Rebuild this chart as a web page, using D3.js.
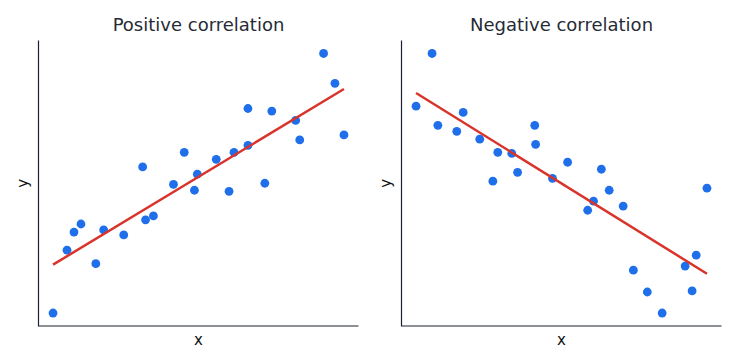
<!DOCTYPE html>
<html>
<head>
<meta charset="utf-8">
<script src="https://cdn.jsdelivr.net/npm/d3@7"></script>
<style>
  body { margin: 0; background: #fff; }
  svg { display: block; font-family: "DejaVu Sans", sans-serif; }
</style>
</head>
<body>
<script>
var titles = ['Positive correlation', 'Negative correlation'];

var posX = [0, 0.48, 0.72, 0.96, 1.47, 1.74, 2.43, 3.08, 3.18, 3.45, 4.14, 4.51, 4.86,
            4.96, 5.61, 6.05, 6.22, 6.70, 6.70, 7.28, 7.52, 8.34, 8.48, 9.30, 9.69, 10];
var posY = [0, 2.42, 3.12, 3.43, 1.90, 3.20, 3.01, 5.63, 3.59, 3.74, 4.96, 6.19, 4.73,
            5.35, 5.92, 4.69, 6.19, 7.88, 6.46, 5.00, 7.78, 7.42, 6.67, 10, 8.85, 6.86];

var negX = [0, 0.55, 0.75, 1.40, 1.62, 2.19, 2.64, 2.81, 3.29, 3.49, 4.08, 4.11, 4.69,
            5.21, 5.90, 6.10, 6.37, 6.64, 7.12, 7.47, 7.95, 8.46, 9.25, 9.49, 9.63, 10];
var negY = [7.97, 10, 7.23, 7.00, 7.73, 6.70, 5.08, 6.19, 6.15, 5.42, 7.23, 6.50, 5.19,
            5.81, 3.96, 4.31, 5.54, 4.73, 4.12, 1.65, 0.81, 0, 1.81, 0.85, 2.23, 4.81];

var W = 738, H = 364;
var svg = d3.select('body').append('svg')
    .attr('width', W)
    .attr('height', H);

var panels = [
    { title: titles[0], xs: posX, ys: posY, left: 38.5 },
    { title: titles[1], xs: negX, ys: negY, left: 401.5 }
];

var plotTop = 40.5, plotBottom = 326, pw = 320;

// least squares fit, drawn over the x extent of the points
function fit(xs, ys) {
    var mx = d3.mean(xs), my = d3.mean(ys), sxy = 0, sxx = 0;
    xs.forEach(function(x, i) {
        sxy += (x - mx) * (ys[i] - my);
        sxx += (x - mx) * (x - mx);
    });
    var b = sxy / sxx;
    return { b: b, a: my - b * mx };
}

function pad(ext) {
    var m = (ext[1] - ext[0]) * 0.05;
    return [ext[0] - m, ext[1] + m];
}

panels.forEach(function(p) {
    var g = svg.append('g');
    var x = d3.scaleLinear().domain(pad(d3.extent(p.xs))).range([p.left, p.left + pw]);
    var y = d3.scaleLinear().domain(pad(d3.extent(p.ys))).range([plotBottom, plotTop]);

    var pts = p.xs.map(function(v, i) { return { x: v, y: p.ys[i] }; });
    var f = fit(p.xs, p.ys);
    var ext = d3.extent(p.xs);
    var lineData = ext.map(function(v) { return { x: v, y: f.a + f.b * v }; });

    g.selectAll('circle')
        .data(pts)
        .enter()
        .append('circle')
        .attr('cx', function(d) { return x(d.x); })
        .attr('cy', function(d) { return y(d.y); })
        .attr('r', 4.4)
        .attr('fill', '#1f6fea');

    g.append('path')
        .datum(lineData)
        .attr('d', d3.line()
            .x(function(d) { return x(d.x); })
            .y(function(d) { return y(d.y); }))
        .attr('fill', 'none')
        .attr('stroke', '#d9342b')
        .attr('stroke-width', 2.5);

    // spines: left and bottom only
    g.append('path')
        .attr('d', 'M' + p.left + ',' + plotTop + 'V' + plotBottom + 'H' + (p.left + pw))
        .attr('fill', 'none')
        .attr('stroke', '#1c2230')
        .attr('stroke-width', 1.2);

    g.append('text')
        .attr('x', p.left + pw / 2)
        .attr('y', 31)
        .attr('text-anchor', 'middle')
        .style('font-size', '18px')
        .style('fill', '#262b35')
        .text(p.title);

    g.append('text')
        .attr('x', p.left + pw / 2)
        .attr('y', 345)
        .attr('text-anchor', 'middle')
        .style('font-size', '15px')
        .style('fill', '#111')
        .text('x');

    g.append('text')
        .attr('transform', 'translate(' + (p.left - 10.5) + ',' + ((plotTop + plotBottom) / 2) + ') rotate(-90)')
        .attr('text-anchor', 'middle')
        .style('font-size', '15px')
        .style('fill', '#111')
        .text('y');
});
</script>
</body>
</html>
